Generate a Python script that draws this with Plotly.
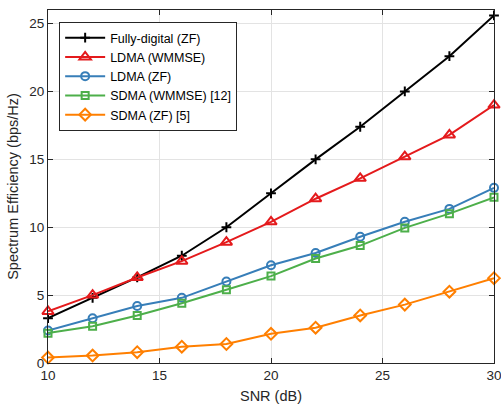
import plotly.graph_objects as go

snr = [10, 12, 14, 16, 18, 20, 22, 24, 26, 28, 30]
fully_digital_zf = [3.3, 4.8, 6.3, 7.9, 10.0, 12.5, 15.0, 17.4, 20.0, 22.6, 25.6]
ldma_wmmse = [3.8, 5.0, 6.3, 7.5, 8.9, 10.4, 12.1, 13.6, 15.2, 16.8, 19.0]
ldma_zf = [2.4, 3.3, 4.2, 4.8, 6.0, 7.2, 8.1, 9.3, 10.4, 11.35, 12.9]
sdma_wmmse = [2.2, 2.7, 3.5, 4.4, 5.4, 6.4, 7.7, 8.65, 9.95, 11.0, 12.2]
sdma_zf = [0.4, 0.55, 0.8, 1.2, 1.4, 2.15, 2.6, 3.5, 4.3, 5.25, 6.25]

series = [
    ("Fully-digital (ZF)", fully_digital_zf, "#000000", "cross-thin", 7),
    ("LDMA (WMMSE)", ldma_wmmse, "#e41a1c", "triangle-up-open", 10),
    ("LDMA (ZF)", ldma_zf, "#377eb8", "circle-open", 8),
    ("SDMA (WMMSE) [12]", sdma_wmmse, "#4daf4a", "square-open", 7),
    ("SDMA (ZF) [5]", sdma_zf, "#ff7f00", "diamond-open", 9),
]

fig = go.Figure()
for name, ys, color, sym, size in series:
    fig.add_trace(go.Scatter(
        x=snr, y=ys, name=name, mode="lines+markers",
        line=dict(color=color, width=2),
        marker=dict(symbol=sym, size=size, color=color,
                    line=dict(color=color, width=2)),
        cliponaxis=False,
    ))

axis_common = dict(
    showgrid=True, gridcolor="#e3e3e3", gridwidth=1,
    showline=True, linecolor="#262626", linewidth=1, mirror="ticks",
    ticks="inside", ticklen=5, tickcolor="#262626",
    tickfont=dict(family="Liberation Sans, Arial", size=13.5, color="#262626"),
    zeroline=False, automargin=False, ticklabeloverflow="allow",
)

fig.update_layout(
    width=501, height=407,
    margin=dict(l=48, r=7, t=10, b=44),
    paper_bgcolor="white", plot_bgcolor="white",
    font=dict(family="Liberation Sans, Arial", size=13, color="#262626"),
    xaxis=dict(range=[10, 30], tickvals=[10, 15, 20, 25, 30],
               title=dict(text="SNR (dB)", font=dict(size=14.5), standoff=8),
               **axis_common),
    yaxis=dict(range=[0, 26], tickvals=[0, 5, 10, 15, 20, 25],
               title=dict(text="Spectrum Efficiency (bps/Hz)", font=dict(size=14.5), standoff=7),
               **axis_common),
    legend=dict(x=0.025, y=0.966, xanchor="left", yanchor="top",
                bgcolor="white", bordercolor="#262626", borderwidth=1,
                font=dict(size=12.5, color="#000000"),
                tracegroupgap=0, itemwidth=40),
    showlegend=True,
)

fig.write_html("out.html", config={"displayModeBar": False},
               post_script="document.body.style.margin='0';")
